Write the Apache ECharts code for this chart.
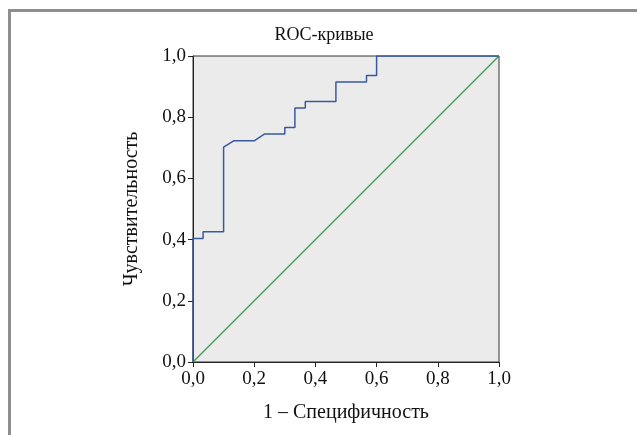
<!DOCTYPE html>
<html>
<head>
<meta charset="utf-8">
<script src="https://cdn.jsdelivr.net/npm/echarts@6/dist/echarts.min.js"></script>
<style>
html,body{margin:0;padding:0;background:#fff;}
#c{width:637px;height:435px;}
</style>
</head>
<body>
<div id="c"></div>
<script>
// 1 - specificity (x) and sensitivity (y) of the ROC step curve
const rocX = [0.0, 0.0, 0.033, 0.033, 0.1, 0.1, 0.133, 0.2, 0.233, 0.3, 0.3, 0.333, 0.333, 0.367, 0.367, 0.467, 0.467, 0.567, 0.567, 0.6, 0.6, 1.0];
const rocY = [0.0, 0.404, 0.404, 0.426, 0.426, 0.702, 0.723, 0.723, 0.745, 0.745, 0.766, 0.766, 0.830, 0.830, 0.851, 0.851, 0.915, 0.915, 0.936, 0.936, 1.0, 1.0];
const refX = [0, 1];
const refY = [0, 1];
const tickLabels = ['0,0', '0,2', '0,4', '0,6', '0,8', '1,0'];
const titleText = 'ROC-кривые';
const xName = '1 – Специфичность';
const yName = 'Чувствительность';

const font = 'Liberation Serif';
const chart = echarts.init(document.getElementById('c'), null, {renderer: 'canvas'});
const fmt = v => tickLabels[Math.round(v / 0.2)];
chart.setOption({
  animation: false,
  backgroundColor: '#fff',
  title: {
    text: titleText, left: 319, top: 21, textAlign: 'center',
    textStyle: {fontFamily: font, fontSize: 18, fontWeight: 'normal', color: '#111'}
  },
  graphic: [{
    type: 'rect', silent: true,
    shape: {x: 9.5, y: 10.5, width: 700, height: 500},
    style: {fill: null, stroke: '#8e8e8e', lineWidth: 3}
  }],
  grid: {left: 193, top: 56, width: 306, height: 306, show: true, backgroundColor: '#ebebeb', borderColor: '#333', borderWidth: 1},
  xAxis: {
    type: 'value', min: 0, max: 1, interval: 0.2,
    name: xName, nameLocation: 'middle', nameGap: 41,
    nameTextStyle: {fontFamily: font, fontSize: 20, color: '#111'},
    axisLine: {show: true, lineStyle: {color: '#222', width: 1}},
    axisTick: {show: true, length: 5, lineStyle: {color: '#222'}},
    splitLine: {show: false},
    axisLabel: {formatter: fmt, fontFamily: font, fontSize: 19, color: '#111', margin: 8}
  },
  yAxis: {
    type: 'value', min: 0, max: 1, interval: 0.2,
    name: yName, nameLocation: 'middle', nameGap: 51, nameRotate: 90,
    nameTextStyle: {fontFamily: font, fontSize: 20, color: '#111'},
    axisLine: {show: true, lineStyle: {color: '#222', width: 1}},
    axisTick: {show: true, length: 5, lineStyle: {color: '#222'}},
    splitLine: {show: false},
    axisLabel: {formatter: fmt, fontFamily: font, fontSize: 19, color: '#111', margin: 7}
  },
  series: [
    {
      type: 'line', data: refX.map((x, i) => [x, refY[i]]),
      symbol: 'none', lineStyle: {color: '#3c9a55', width: 1.2}, z: 2
    },
    {
      type: 'line', data: rocX.map((x, i) => [x, rocY[i]]),
      symbol: 'none', lineStyle: {color: '#3b5a9e', width: 1.5}, z: 3
    }
  ]
});
</script>
</body>
</html>
